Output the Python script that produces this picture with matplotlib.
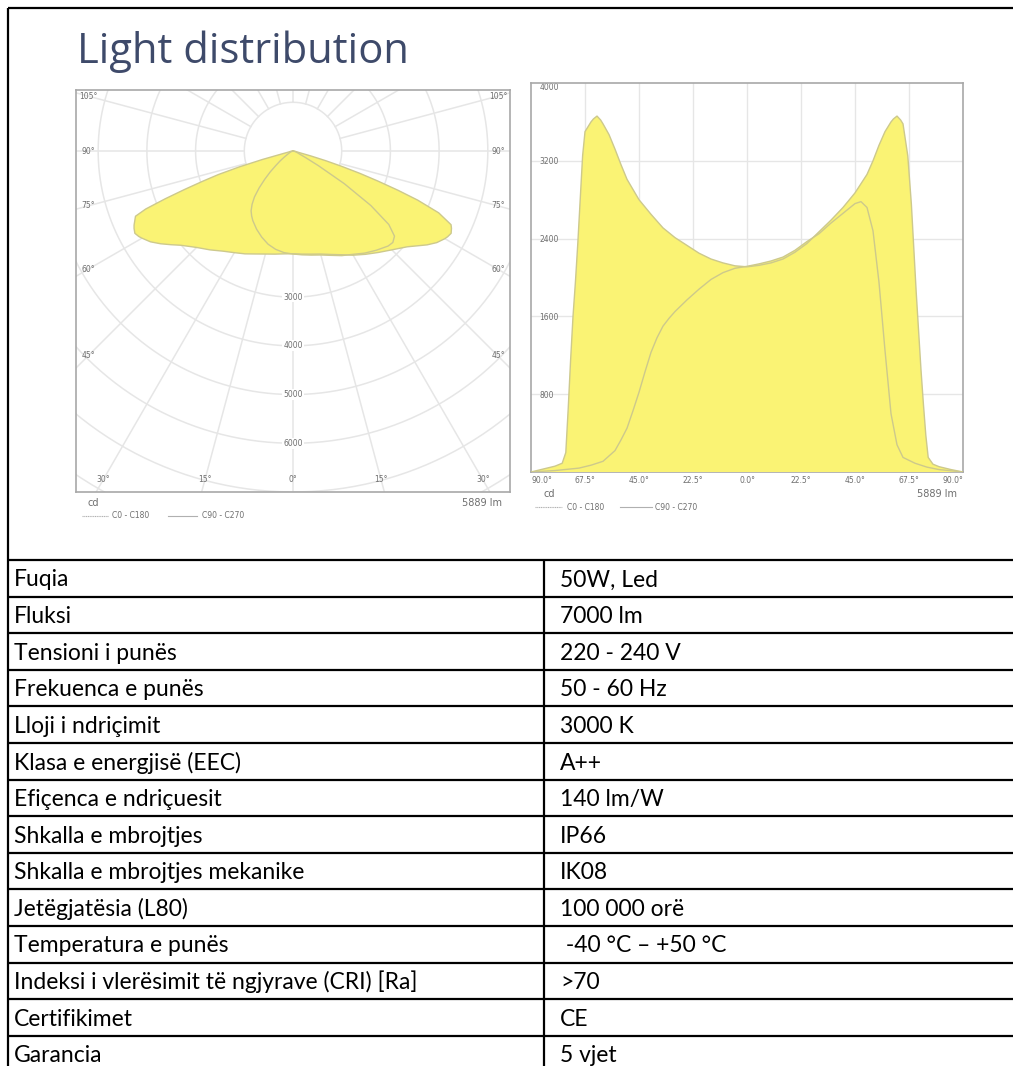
import numpy as np
import matplotlib.pyplot as plt

W, H = 1013, 1066

title = "Light distribution"

# C0 - C180 plane (batwing), angle in degrees from nadir, intensity in cd
angles_c0 = [-90, -85, -80, -77, -75.5, -74.5, -73.5, -72.5, -71.5, -70.5, -69.5, -68.5,
             -67.5, -65, -64, -62.5, -61, -60, -57.5, -55, -52.5, -50, -45, -40, -35,
             -30, -25, -20, -15, -10, -5, 0, 5, 10, 15, 20, 25, 30, 35, 40, 45, 50,
             52.5, 55, 57.5, 60, 61, 62.5, 64, 65, 67, 68.5, 69.5, 70.5, 71.5, 72.5,
             73.5, 74.5, 75.5, 77.5, 80, 85, 90]
intensity_c0 = [0, 30, 60, 90, 200, 650, 1150, 1600, 1950, 2350, 2800, 3250,
                3500, 3600, 3630, 3660, 3620, 3580, 3470, 3320, 3160, 3010, 2800, 2650, 2510,
                2410, 2330, 2250, 2190, 2150, 2120, 2110, 2125, 2150, 2190, 2260, 2350, 2470, 2590, 2720, 2870, 3060,
                3200, 3360, 3500, 3600, 3630, 3660, 3620, 3580, 3250, 2750, 2300, 1850, 1450, 1050,
                700, 380, 150, 80, 55, 25, 0]

# C90 - C270 plane
angles_c90 = [-90, -80, -70, -65, -60, -55, -52.5, -50, -47.5, -45, -42.5, -40, -37.5,
              -35, -32.5, -30, -25, -20, -15, -10, -5, 0, 5, 10, 15, 20, 25, 30, 35,
              40, 45, 47.5, 50, 52.5, 55, 57.5, 60, 62.5, 65, 70, 75, 80, 90]
intensity_c90 = [0, 15, 40, 70, 110, 220, 330, 450, 630, 820, 1030, 1230, 1380,
                 1500, 1580, 1650, 1770, 1880, 1980, 2050, 2095, 2115, 2140, 2170, 2210, 2280, 2370, 2450, 2560,
                 2660, 2760, 2780, 2720, 2480, 1950, 1250, 600, 280, 150, 90, 50, 25, 0]

polar_rings = [1000, 2000, 3000, 4000, 5000, 6000, 7000, 8000, 9000]
polar_ring_labels = [3000, 4000, 5000, 6000]
polar_side_angles = [105, 90, 75, 60, 45]
polar_bottom_angles = [-30, -15, 0, 15, 30]
cart_xticks = [-90, -67.5, -45, -22.5, 0, 22.5, 45, 67.5, 90]
cart_yticks = [800, 1600, 2400, 3200, 4000]
lumens = "5889 lm"
legend_labels = ["C0 - C180", "C90 - C270"]

spec_names = ["Fuqia", "Fluksi", "Tensioni i punës", "Frekuenca e punës",
              "Lloji i ndriçimit", "Klasa e energjisë (EEC)", "Efiçenca e ndriçuesit",
              "Shkalla e mbrojtjes", "Shkalla e mbrojtjes mekanike", "Jetëgjatësia (L80)",
              "Temperatura e punës", "Indeksi i vlerësimit të ngjyrave (CRI) [Ra]",
              "Certifikimet", "Garancia"]
spec_values = ["50W, Led", "7000 lm", "220 - 240 V", "50 - 60 Hz", "3000 K", "A++",
               "140 lm/W", "IP66", "IK08", "100 000 orë", " -40 °C – +50 °C", ">70",
               "CE", "5 vjet"]

YELLOW = "#faf374"
EDGE = "#cdc98c"
GRID = "#e6e6e6"
FRAME = "#a8a8a8"
LABEL = "#6e6e6e"


def px_axes(fig, left, top, right, bottom):
    return fig.add_axes([left / W, 1 - bottom / H, (right - left) / W, (bottom - top) / H])


fig = plt.figure(figsize=(W / 100, H / 100), dpi=100)
fig.patch.set_facecolor("white")

# page overlay in pixel coordinates
bg = fig.add_axes([0, 0, 1, 1])
bg.set_xlim(0, W)
bg.set_ylim(H, 0)
bg.axis("off")

bg.plot([8, W], [8, 8], color="black", lw=1.6, solid_capstyle="butt")
bg.plot([8, 8], [8, H], color="black", lw=1.6, solid_capstyle="butt")
bg.text(77, 63, title, fontsize=30, family="Open Sans", color="#3e4a6a", va="baseline")

# ---- polar diagram ----
pol = px_axes(fig, 76, 90, 510, 492)
s = 20.53  # cd per pixel
cx, cy = 293, 151
xl = ((76 - cx) * s, (510 - cx) * s)
yl = (-(492 - cy) * s, (cy - 90) * s)
pol.set_xlim(*xl)
pol.set_ylim(*yl)
pol.set_xticks([])
pol.set_yticks([])
for sp in pol.spines.values():
    sp.set_color(FRAME)
    sp.set_linewidth(1.2)

t = np.linspace(0, 2 * np.pi, 400)
for r in polar_rings:
    pol.plot(r * np.sin(t), r * np.cos(t), color=GRID, lw=1.1, zorder=1)
for a in range(0, 360, 15):
    ar = np.radians(a)
    pol.plot([1000 * np.sin(ar), 12000 * np.sin(ar)], [-1000 * np.cos(ar), -12000 * np.cos(ar)],
             color=GRID, lw=1.1, zorder=1)

for ang, inten in [(angles_c0, intensity_c0), (angles_c90, intensity_c90)]:
    a = np.radians(ang)
    i = np.array(inten)
    pol.fill(i * np.sin(a), -i * np.cos(a), color=YELLOW, lw=0, zorder=3)
for ang, inten in [(angles_c0, intensity_c0), (angles_c90, intensity_c90)]:
    a = np.radians(ang)
    i = np.array(inten)
    pol.plot(i * np.sin(a), -i * np.cos(a), color=EDGE, lw=1.0, zorder=4)

for r in polar_ring_labels:
    pol.text(0, -r, str(r), ha="center", va="center", fontsize=5.5, color=LABEL, zorder=5,
             bbox=dict(fc="white", ec="none", pad=0.6))

xs = abs(xl[0]) - 12 * s
for a in polar_side_angles:
    ar = np.radians(a)
    y = -xs * np.cos(ar) / np.sin(ar)
    for sign in (-1, 1):
        pol.text(sign * xs, y, f"{a}°", ha="center", va="center", fontsize=5.5, color=LABEL, zorder=5)
yb = abs(yl[0]) - 12 * s
for a in polar_bottom_angles:
    ar = np.radians(a)
    x = yb * np.sin(ar) / np.cos(ar)
    pol.text(x, -yb, f"{abs(a)}°", ha="center", va="center", fontsize=5.5, color=LABEL, zorder=5)

# ---- cartesian diagram ----
car = px_axes(fig, 531, 83, 963, 472)
car.set_xlim(-90, 90)
car.set_ylim(0, 4000)
for sp in car.spines.values():
    sp.set_color(FRAME)
    sp.set_linewidth(1.2)
for x in cart_xticks[1:-1]:
    car.axvline(x, color=GRID, lw=1.0, zorder=1)
for y in cart_yticks[:-1]:
    car.axhline(y, color=GRID, lw=1.0, zorder=1)
car.fill(angles_c0, intensity_c0, color=YELLOW, lw=0, zorder=3)
car.fill(angles_c90, intensity_c90, color=YELLOW, lw=0, zorder=3)
car.plot(angles_c0, intensity_c0, color=EDGE, lw=1.0, zorder=4)
car.plot(angles_c90, intensity_c90, color=EDGE, lw=1.0, zorder=4)

car.set_xticks(cart_xticks)
car.set_xticklabels([f"{abs(v):.1f}°" for v in cart_xticks])
car.set_yticks(cart_yticks)
car.set_yticklabels([str(v) for v in cart_yticks])
car.tick_params(axis="both", length=0, labelsize=5.5, labelcolor=LABEL)
car.tick_params(axis="x", pad=3)
car.tick_params(axis="y", pad=-6)
for lab in car.get_yticklabels():
    lab.set_ha("left")
car.get_yticklabels()[-1].set_va("top")
xlabs = car.get_xticklabels()
xlabs[0].set_ha("left")
xlabs[-1].set_ha("right")

# ---- captions and legends under the diagrams ----
for left, right, ycd, yleg, l1, t1, l2, t2 in [
        (87, 502, 503, 516, (82, 108), 112, (168, 197), 202),
        (543, 957, 494, 507, (535, 562), 567, (620, 652), 655)]:
    bg.text(left, ycd, "cd", fontsize=7, color=LABEL, va="center")
    bg.text(right, ycd, lumens, fontsize=7, color=LABEL, va="center", ha="right")
    bg.plot(l1, [yleg, yleg], color="#b0b0b0", lw=0.8, ls=(0, (1, 0.6)))
    bg.text(t1, yleg, legend_labels[0], fontsize=5.5, color=LABEL, va="center")
    bg.plot(l2, [yleg, yleg], color="#b0b0b0", lw=0.8)
    bg.text(t2, yleg, legend_labels[1], fontsize=5.5, color=LABEL, va="center")

# ---- specification table ----
top = 560
row_h = 36.6
div_x = 544
for k in range(len(spec_names) + 1):
    y = top + k * row_h
    bg.plot([8, W], [y, y], color="black", lw=1.6, solid_capstyle="butt")
bg.plot([div_x, div_x], [top, H], color="black", lw=1.6, solid_capstyle="butt")
for k, (name, val) in enumerate(zip(spec_names, spec_values)):
    yb_ = top + k * row_h + 26.5
    bg.text(14, yb_, name, fontsize=16.5, family="Lato", va="baseline", color="black")
    bg.text(560, yb_, val, fontsize=16.5, family="Lato", va="baseline", color="black")

fig.savefig("out.png", dpi=100)
